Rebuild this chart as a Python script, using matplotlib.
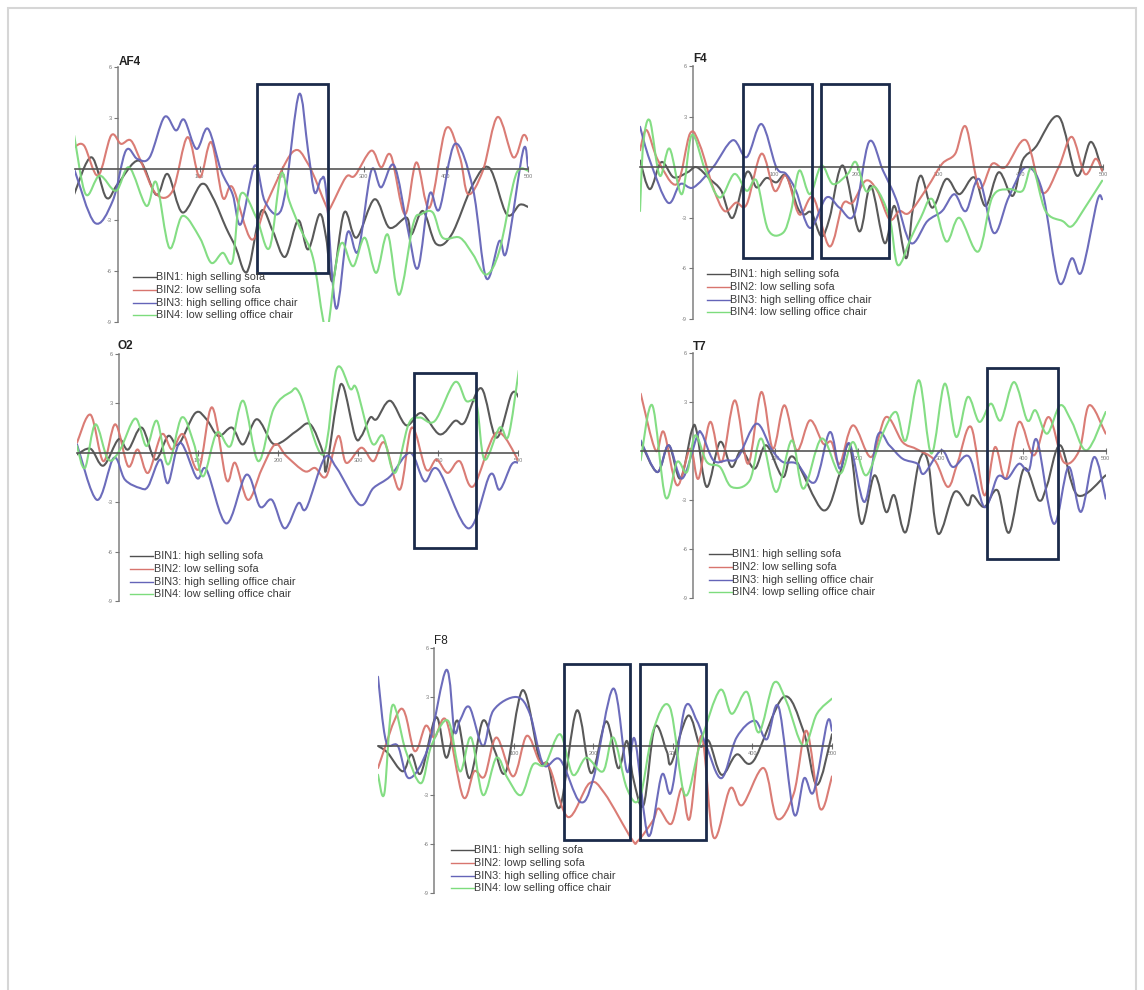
import numpy as np
import matplotlib
matplotlib.use("Agg")
import matplotlib.pyplot as plt
from matplotlib.path import Path
from matplotlib.patches import PathPatch, Rectangle
from matplotlib.lines import Line2D

plt.rcParams['font.family'] = ['Liberation Sans', 'DejaVu Sans']

W, H = 1144, 990

# ---------------- data (time in ms, amplitude in microvolts) ----------------
bin_labels_default = ["BIN1: high selling sofa", "BIN2: low selling sofa",
                      "BIN3: high selling office chair", "BIN4: low selling office chair"]
bin_labels_t7 = ["BIN1: high selling sofa", "BIN2: low selling sofa",
                 "BIN3: high selling office chair", "BIN4: lowp selling office chair"]
bin_labels_f8 = ["BIN1: high selling sofa", "BIN2: lowp selling sofa",
                 "BIN3: high selling office chair", "BIN4: low selling office chair"]
bin_colors = ["#505050", "#d8756e", "#6464b8", "#7ddc7d"]

x_ticks = [100, 200, 300, 400, 500]
y_ticks = [6, 3, -3, -6, -9]

# AF4
af4_b1_t = [-53,-32,-14,0,26,47,61,79,102,116,132,144,154,161,175,189,204,220,232,246,254,262,276,291,313,331,352,358,372,388,407,433,453,474,490,500]
af4_b1_v = [-1.48,0.69,-1.68,-0.89,0.49,-1.52,-0.30,-2.56,-0.89,-1.68,-3.45,-4.64,-6.0,-5.6,-2.47,-3.65,-5.17,-3.02,-4.73,-2.66,-4.04,-6.6,-2.56,-4.04,-1.78,-3.45,-2.86,-3.85,-2.47,-4.4,-3.85,-0.89,0.06,-2.66,-2.1,-2.23]
af4_b2_t = [-53,-41,-24,-8,4,16,28,47,67,85,100,114,128,140,163,181,213,232,254,258,278,289,309,321,333,350,364,380,400,417,427,445,463,482,494,500]
af4_b2_v = [1.28,1.38,-0.39,1.97,1.48,1.68,0.49,-1.48,-1.28,1.87,-0.49,1.58,-1.68,-1.08,-4.14,-2.07,0.99,0.30,-2.17,-2.37,-0.49,-0.39,1.08,0.10,0.79,-2.66,0.39,-2.27,2.37,0.69,-1.48,-0.10,3.06,0.69,1.97,1.68]
af4_b3_t = [-53,-28,-6,10,24,39,57,71,81,96,110,126,140,150,167,179,195,205,221,232,240,248,254,266,280,293,309,321,337,354,366,380,392,411,433,449,465,474,494,500]
af4_b3_v = [0.0,-3.16,-1.87,1.08,0.59,0.69,3.06,2.27,2.90,1.18,2.37,-0.10,-1.48,-3.25,0.20,-1.87,-2.66,-1.18,4.40,1.08,-1.38,-0.59,-1.28,-8.19,-3.75,-4.83,-0.10,-1.08,0.20,-3.65,-5.82,-1.48,-2.37,1.48,-1.18,-6.41,-4.24,-4.83,1.08,0.1]
af4_b4_t = [-53,-39,-22,-2,14,35,47,63,79,100,114,128,140,150,169,185,199,209,222,238,250,256,266,274,287,301,315,329,343,360,370,384,396,417,433,449,465,482,490,500]
af4_b4_v = [1.97,-1.48,-0.39,-1.28,0.10,-2.17,-0.79,-4.64,-2.76,-4.04,-5.52,-4.93,-5.42,-1.48,-2.86,-4.64,-0.30,-1.87,-3.45,-5.23,-8.78,-9.4,-5.62,-4.34,-5.72,-4.04,-6.11,-3.85,-7.40,-3.25,-2.66,-2.56,-4.04,-4.04,-5.03,-6.21,-4.83,-0.89,0.0,-0.1]

# F4
f4_b1_t = [-64,-52,-38,-23,-6,5,21,35,49,66,78,90,102,114,128,136,145,157,167,183,203,217,234,246,260,268,278,292,309,325,343,357,373,390,402,418,446,468,485,499]
f4_b1_v = [0.4,-1.3,0.3,-0.6,-0.3,0.0,-0.7,-1.4,-3.0,-0.3,-1.2,-0.64,-0.9,-0.5,-2.4,-2.8,-2.7,-4.1,-3.0,0.1,-3.8,-1.1,-4.5,-2.3,-5.4,-2.6,-0.5,-2.4,-0.7,-1.6,-0.6,-2.3,-0.3,-1.7,0.4,1.2,3.0,-0.5,1.5,-0.2]
f4_b2_t = [-64,-56,-42,-19,-3,9,25,39,53,66,84,100,114,130,147,167,183,195,211,225,240,252,264,286,304,320,333,349,365,381,406,426,446,462,478,491,499]
f4_b2_v = [1.0,2.2,0.4,-1.0,2.0,1.3,-1.2,-2.6,-2.1,-2.2,0.8,-1.4,-0.5,-2.8,-1.8,-4.7,-2.2,-2.1,-0.8,-1.4,-3.1,-2.6,-2.7,-1.2,0.2,0.8,2.4,-1.2,0.2,0.0,1.6,-1.5,0.0,1.8,-0.4,0.5,-0.2]
f4_b3_t = [-64,-52,-30,-15,1,25,49,66,84,102,114,126,143,163,179,197,215,232,248,266,286,304,319,333,349,367,385,406,426,446,462,474,493,499]
f4_b3_v = [2.4,0.4,-2.1,-1.0,-1.2,0.0,1.6,0.6,2.56,0.0,-0.4,-1.4,-3.6,-1.8,-2.4,-2.8,1.5,-0.2,-1.9,-4.5,-3.2,-2.6,-1.6,-2.6,-0.7,-3.9,-1.8,0.0,-1.4,-6.8,-5.4,-6.2,-2.0,-1.9]
f4_b4_t = [-64,-60,-52,-40,-28,-13,-1,15,33,51,66,78,92,110,120,130,143,157,171,189,199,211,223,240,250,266,278,292,309,325,348,365,385,402,414,430,451,462,478,499]
f4_b4_v = [-2.6,1.4,2.76,-0.5,1.1,-1.6,1.9,-0.1,-1.8,-0.4,-1.4,-0.8,-3.7,-3.9,-2.6,-0.2,-1.6,0.1,-1.0,-0.4,0.3,-1.4,-1.2,-3.0,-5.8,-4.2,-3.0,-1.9,-4.4,-3.0,-5.0,-1.8,-1.3,-1.4,0.0,-2.6,-3.2,-3.5,-2.4,-0.8]

# O2
o2_b1_t = [-52,-35,-19,0,12,29,46,62,75,96,110,125,142,156,173,192,204,223,240,256,260,273,281,296,304,315,323,340,360,379,402,421,433,454,473,492,501]
o2_b1_v = [-0.1,0.24,-0.78,0.82,0.2,1.53,-0.41,1.02,0.51,2.41,2.04,1.02,1.53,0.51,2.04,0.61,0.65,1.33,1.73,0.0,-1.02,3.06,4.08,1.02,1.02,2.14,2.04,3.16,1.67,2.41,1.12,1.94,1.84,3.92,0.92,3.57,3.37]
o2_b2_t = [-52,-35,-19,-4,12,24,37,54,67,81,100,117,135,146,162,179,196,210,233,246,260,275,285,304,319,333,352,367,385,398,412,427,444,473,501]
o2_b2_v = [0.61,2.31,-0.51,1.73,-0.82,0.2,-1.22,1.12,0.2,1.12,-1.02,2.76,-1.63,-0.61,-2.86,-1.02,0.51,-0.2,-1.12,-0.92,-1.43,1.02,-0.61,0.31,-0.51,0.61,-2.24,1.53,-1.02,-0.41,-1.22,-0.51,-2.04,1.22,-0.51]
o2_b3_t = [-52,-27,-6,8,27,37,52,62,77,98,110,135,160,177,192,208,225,235,258,273,302,319,340,365,383,400,438,465,477,492,501]
o2_b3_v = [0.51,-2.86,-0.31,-1.63,-2.14,-2.04,-0.41,-1.84,0.61,-1.53,-1.02,-4.29,-1.33,-3.27,-2.86,-4.59,-3.06,-3.37,-0.31,-0.92,-3.16,-2.14,-1.43,0.0,-1.73,-1.02,-4.59,-1.33,-2.24,-0.71,-0.61]
o2_b4_t = [-52,-42,-29,-13,2,21,35,48,62,79,94,106,123,140,156,175,194,215,227,256,273,290,298,317,331,346,363,377,396,421,435,448,458,477,488,501]
o2_b4_v = [0.41,-0.92,1.73,-0.41,0.2,2.08,0.41,1.94,-0.71,2.14,0.61,-1.43,1.22,0.41,3.16,-0.51,2.65,3.67,3.57,-0.1,5.1,3.88,3.88,0.61,1.02,-1.22,1.73,2.14,1.94,4.29,3.16,2.96,-0.41,1.53,1.02,5.0]

# T7
t7_b1_t = [-63,-43,-29,-15,-1,5,17,33,47,59,75,89,109,122,158,178,190,204,220,234,244,258,274,285,297,317,333,339,353,369,383,401,419,429,445,466,500]
t7_b1_v = [0.55,-1.29,0.35,-1.69,1.27,1.16,-2.2,0.55,-0.98,0.04,-1.08,0.35,-1.59,-0.37,-3.63,-1.39,0.35,-4.45,-1.49,-3.73,-2.71,-4.96,-0.67,-0.67,-5.06,-2.51,-3.33,-2.71,-3.43,-2.41,-5.0,-1.08,-3.02,-2.1,0.35,-2.71,-1.49]
t7_b2_t = [-63,-45,-35,-19,-3,7,21,35,51,67,83,97,111,126,142,158,168,178,194,216,234,254,270,293,309,321,337,353,366,379,395,413,431,449,468,480,500]
t7_b2_v = [3.51,0.04,1.16,-2.1,0.14,-1.69,1.78,-0.67,3.1,-0.78,3.61,0.14,2.8,0.04,1.88,0.45,0.55,-0.78,1.57,-0.37,2.08,0.55,0.14,-0.57,-2.2,-0.67,1.47,-2.71,0.24,-1.69,1.78,-0.27,2.08,-0.67,0.04,2.8,1.06]
t7_b3_t = [-63,-43,-29,-13,5,11,25,41,55,77,95,109,126,148,166,178,190,208,224,238,254,272,280,301,315,335,353,369,381,395,407,417,437,455,470,486,500]
t7_b3_v = [0.65,-1.29,0.35,-1.69,0.86,1.06,-0.57,-0.57,-0.37,1.67,0.14,-0.67,-0.78,-1.9,1.16,-1.08,0.45,-3.12,0.96,0.35,-0.47,-0.78,-1.39,0.04,-0.98,-0.37,-3.43,-1.59,-1.69,-0.78,-1.18,0.65,-4.45,-0.98,-3.73,-0.37,-2.92]
t7_b4_t = [-63,-49,-33,-19,-7,3,17,33,47,69,83,101,120,134,156,178,194,210,230,246,258,274,289,305,319,333,347,361,373,389,405,415,429,445,459,477,500]
t7_b4_v = [-0.57,2.8,-2.82,-0.67,-1.29,0.96,-0.67,-0.98,-2.2,-1.8,0.76,-2.51,0.65,-2.31,0.76,-1.39,0.55,-1.49,1.06,2.39,0.65,4.33,-0.16,4.12,0.86,3.31,1.78,2.9,1.88,4.22,1.88,2.49,1.06,2.8,1.78,0.04,2.39]

# F8
f8_b1_t = [-71,-59,-40,-29,-17,2,15,29,44,61,76,90,111,132,143,158,179,197,216,231,242,250,263,277,292,298,319,334,345,361,380,401,439,464,481,500]
f8_b1_v = [0.0,-0.41,-1.55,-0.52,-1.66,1.76,-0.72,1.55,-1.97,1.55,-0.31,-1.55,3.42,-0.83,-1.14,-3.73,2.17,-1.66,1.51,-1.35,0.31,-1.97,-3.62,1.14,-0.31,-1.04,1.86,0.0,0.31,-1.76,-0.52,-0.93,3.0,0.93,-2.38,0.72]
f8_b2_t = [-71,-42,-25,-11,0,15,36,50,63,78,99,116,132,145,168,195,214,248,256,275,282,298,311,321,336,351,372,387,414,431,452,468,485,500]
f8_b2_v = [-1.35,2.28,-0.31,1.24,0.52,1.55,-3.11,-1.55,-1.86,0.52,-1.86,0.62,-0.93,-1.35,-4.35,-2.28,-2.9,-5.69,-5.8,-4.55,-3.83,-4.76,-2.59,-4.45,0.62,-5.59,-2.59,-3.62,-1.35,-4.45,-2.9,0.93,-3.83,-1.86]
f8_b3_t = [-71,-61,-46,-32,-8,15,25,32,44,61,74,103,120,137,158,183,200,225,242,252,269,286,298,315,330,342,361,380,403,418,433,452,465,477,494,500]
f8_b3_v = [4.24,0.31,0.0,-1.97,-0.1,4.66,0.93,1.55,2.38,0.0,2.17,3.0,1.97,-1.14,-0.83,-3.42,-1.97,3.52,-1.55,0.41,-5.49,-1.76,-2.8,2.34,1.55,0.0,-1.97,0.52,1.55,0.41,2.38,-4.14,-1.97,-2.8,1.45,0.93]
f8_b4_t = [-71,-63,-53,-36,-17,-4,17,32,46,61,78,92,109,124,139,158,174,191,212,225,242,258,275,296,315,334,359,374,393,408,427,443,464,481,500]
f8_b4_v = [-1.76,-2.9,2.48,-0.31,-2.28,0.0,1.55,-1.55,0.52,-3.0,-0.72,-1.97,-3.0,-1.14,-1.14,0.72,-1.76,-0.72,-1.55,0.52,-2.59,-3.21,0.93,2.38,-3.0,0.1,3.42,1.97,3.31,0.83,3.87,2.69,0.0,1.97,2.9]

# highlight boxes (ms, microvolts): (t0, t1, v_low, v_high)
af4_boxes = [(170, 256, -6.1, 5.0)]
f4_boxes = [(61, 145, -5.4, 4.95), (157, 239, -5.4, 4.95)]
o2_boxes = [(370, 448, -5.8, 4.85)]
t7_boxes = [(356, 442, -6.6, 5.1)]
f8_boxes = [(163, 246, -5.75, 5.0), (258, 342, -5.75, 5.0)]


def px_to_fig(x, y):
    return x / W, 1 - y / H


def smooth_path(t, v):
    """Catmull-Rom style cubic Bezier path through the read points."""
    pts = np.column_stack([t, v]).astype(float)
    n = len(pts)
    verts = [pts[0]]
    codes = [Path.MOVETO]
    for i in range(n - 1):
        p0 = pts[i - 1] if i > 0 else pts[i]
        p1 = pts[i]
        p2 = pts[i + 1]
        p3 = pts[i + 2] if i + 2 < n else pts[i + 1]
        c1 = p1 + (p2 - p0) / 6.0
        c2 = p2 - (p3 - p1) / 6.0
        verts += [c1, c2, p2]
        codes += [Path.CURVE4] * 3
    return Path(verts, codes)


fig = plt.figure(figsize=(W / 100, H / 100), dpi=100)
fig.patch.set_facecolor("white")

# outer light frame
fig.patches.append(Rectangle(px_to_fig(8, 1000), 1128 / W, 992 / H,
                             transform=fig.transFigure, fill=False,
                             edgecolor="#d6d6d6", lw=1.5))

panels = [
    # name, bold, (left, top, right, bottom) px, tmin, series, labels, boxes, title px, legend px
    ("AF4", True, (75, 67, 528, 322), -52,
     [(af4_b1_t, af4_b1_v), (af4_b2_t, af4_b2_v), (af4_b3_t, af4_b3_v), (af4_b4_t, af4_b4_v)],
     bin_labels_default, af4_boxes, (119, 65), (133, 277)),
    ("F4", True, (640, 66, 1103, 319), -64,
     [(f4_b1_t, f4_b1_v), (f4_b2_t, f4_b2_v), (f4_b3_t, f4_b3_v), (f4_b4_t, f4_b4_v)],
     bin_labels_default, f4_boxes, (693, 62), (707, 274)),
    ("O2", True, (77, 354, 518, 601), -52,
     [(o2_b1_t, o2_b1_v), (o2_b2_t, o2_b2_v), (o2_b3_t, o2_b3_v), (o2_b4_t, o2_b4_v)],
     bin_labels_default, o2_boxes, (118, 349), (130, 556)),
    ("T7", True, (640.7, 353, 1105.7, 598), -63,
     [(t7_b1_t, t7_b1_v), (t7_b2_t, t7_b2_v), (t7_b3_t, t7_b3_v), (t7_b4_t, t7_b4_v)],
     bin_labels_t7, t7_boxes, (693, 350), (709, 554)),
    ("F8", False, (378, 648, 832, 893), -71,
     [(f8_b1_t, f8_b1_v), (f8_b2_t, f8_b2_v), (f8_b3_t, f8_b3_v), (f8_b4_t, f8_b4_v)],
     bin_labels_f8, f8_boxes, (434, 644), (451, 850)),
]

for name, bold, (l, tp, r, b), tmin, series, labels, boxes, tpos, lpos in panels:
    fl, fb = px_to_fig(l, b)
    ax = fig.add_axes([fl, fb, (r - l) / W, (b - tp) / H])
    ax.set_xlim(tmin, 500)
    ax.set_ylim(-9, 6)
    ax.patch.set_alpha(0)
    for s in ["top", "right"]:
        ax.spines[s].set_visible(False)
    ax.spines["left"].set_position(("data", 0))
    ax.spines["bottom"].set_position(("data", 0))
    ax.spines["left"].set_color("#8a8a8a")
    ax.spines["left"].set_linewidth(1.2)
    ax.spines["bottom"].set_color("#555555")
    ax.spines["bottom"].set_linewidth(1.2)
    ax.spines["left"].set_zorder(1)
    ax.set_xticks(x_ticks)
    ax.set_xticklabels([str(x) for x in x_ticks])
    ax.set_yticks(y_ticks)
    ax.set_yticklabels([str(y) for y in y_ticks])
    ax.tick_params(axis="x", direction="inout", length=5, width=0.8, colors="#777777",
                   labelsize=4, pad=1)
    ax.tick_params(axis="y", direction="out", length=3, width=0.8, colors="#777777",
                   labelsize=4, pad=1)

    for (t, v), c in zip(series, bin_colors):
        patch = PathPatch(smooth_path(t, v), fill=False, edgecolor=c, lw=1.5,
                          alpha=0.95, zorder=2, capstyle="round", joinstyle="round")
        ax.add_patch(patch)
        patch.set_clip_path(ax.patch)

    for (t0, t1, v0, v1) in boxes:
        ax.add_patch(Rectangle((t0, v0), t1 - t0, v1 - v0, fill=False,
                               edgecolor="#1b2a4a", lw=2.0, zorder=5, clip_on=False))

    fx, fy = px_to_fig(*tpos)
    fig.text(fx, fy, name, fontsize=8.5, fontweight="bold" if bold else "normal",
             color="#222222", ha="left", va="baseline")

    # legend drawn as handle lines + labels
    lx, ly = lpos
    for i, (lab, c) in enumerate(zip(labels, bin_colors)):
        yy = ly + i * 12.8
        x0, y0 = px_to_fig(lx, yy)
        x1, _ = px_to_fig(lx + 23, yy)
        fig.add_artist(Line2D([x0, x1], [y0, y0], color=c, lw=1.0,
                              transform=fig.transFigure))
        fig.text(x1 + 0.5 / W, y0, lab, fontsize=7.8, color="#3a3a3a",
                 ha="left", va="center")

fig.savefig("out.png", dpi=100, facecolor="white")
